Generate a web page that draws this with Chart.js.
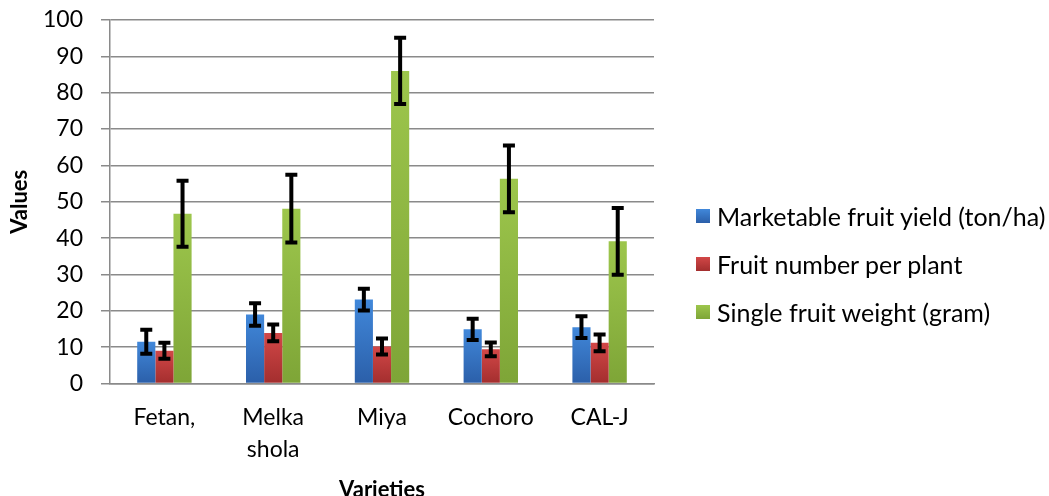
<!DOCTYPE html>
<html>
<head>
<meta charset="utf-8">
<script src="https://cdn.jsdelivr.net/npm/chart.js@4.4.1/dist/chart.umd.min.js"></script>
<style>
    html, body { margin: 0; padding: 0; background: #fff; overflow: hidden; }
    #wrap { position: relative; width: 1049px; height: 496px; }
    #legend { position: absolute; left: 696px; top: 0; font-family: Lato, "Liberation Sans", sans-serif; font-size: 25px; color: #000; }
    .legend-row { position: absolute; left: 0; white-space: nowrap; display: flex; align-items: center; height: 30px; }
    .legend-bg { width: 14px; height: 14px; margin-right: 7px; }
</style>
</head>
<body>
<div id="wrap">
    <canvas id="chart-varieties" width="1049" height="496"></canvas>
    <div id="legend"></div>
</div>
<script>
var categories = ["Fetan,", ["Melka", "shola"], "Miya", "Cochoro", "CAL-J"];
var seriesNames = ["Marketable fruit yield (ton/ha)", "Fruit number per plant", "Single fruit weight (gram)"];
var yieldValues = [11.5, 19.0, 23.1, 14.9, 15.5];
var yieldErrors = [3.3, 3.1, 3.0, 2.9, 3.0];
var numberValues = [9.0, 13.9, 10.2, 9.4, 11.2];
var numberErrors = [2.2, 2.3, 2.2, 1.9, 2.3];
var weightValues = [46.7, 48.1, 86.0, 56.3, 39.1];
var weightErrors = [9.1, 9.3, 9.1, 9.2, 9.2];
var yTicks = [0, 10, 20, 30, 40, 50, 60, 70, 80, 90, 100];

// top / bottom colour of each series gradient
var colorsTop = ["#4188da", "#d24747", "#9dc64c"];
var colorsBottom = ["#2b5fa9", "#a32e2e", "#7ea537"];
var fontName = "Lato, 'Liberation Sans', sans-serif";

function barGradient(index) {
    return function (context) {
        var chart = context.chart;
        var yScale = chart.scales.y;
        if (!yScale || context.parsed === undefined || context.parsed === null) {
            return colorsTop[index];
        }
        var top = yScale.getPixelForValue(context.parsed.y);
        var bottom = yScale.getPixelForValue(0);
        if (!isFinite(top) || !isFinite(bottom) || top === bottom) {
            return colorsTop[index];
        }
        var g = chart.ctx.createLinearGradient(0, top, 0, bottom);
        g.addColorStop(0, colorsTop[index]);
        g.addColorStop(1, colorsBottom[index]);
        return g;
    };
}

var errorBars = {
    id: "errorBars",
    afterDatasetsDraw: function (chart) {
        var ctx = chart.ctx;
        var yScale = chart.scales.y;
        ctx.save();
        ctx.strokeStyle = "#000";
        ctx.lineWidth = 4;
        chart.data.datasets.forEach(function (ds, i) {
            var meta = chart.getDatasetMeta(i);
            meta.data.forEach(function (bar, j) {
                var v = ds.data[j];
                var e = ds.errors[j];
                var yHi = yScale.getPixelForValue(v + e);
                var yLo = yScale.getPixelForValue(v - e);
                var half = 6;
                ctx.beginPath();
                ctx.moveTo(bar.x, yHi);
                ctx.lineTo(bar.x, yLo);
                ctx.moveTo(bar.x - half, yHi);
                ctx.lineTo(bar.x + half, yHi);
                ctx.moveTo(bar.x - half, yLo);
                ctx.lineTo(bar.x + half, yLo);
                ctx.stroke();
            });
        });
        ctx.restore();
    }
};

var ctx = document.getElementById("chart-varieties");
var myChart = new Chart(ctx, {
    type: "bar",
    data: {
        labels: categories,
        datasets: [
            { label: seriesNames[0], data: yieldValues, errors: yieldErrors, backgroundColor: barGradient(0) },
            { label: seriesNames[1], data: numberValues, errors: numberErrors, backgroundColor: barGradient(1) },
            { label: seriesNames[2], data: weightValues, errors: weightErrors, backgroundColor: barGradient(2) }
        ]
    },
    options: {
        responsive: false,
        animation: false,
        layout: {
            padding: { left: 0, right: 395, top: 20, bottom: 0 }
        },
        datasets: {
            bar: { categoryPercentage: 0.5, barPercentage: 1.0, borderWidth: 0 }
        },
        plugins: {
            legend: { display: false },
            tooltip: { enabled: false }
        },
        scales: {
            x: {
                grid: { display: false, drawTicks: false },
                border: { display: true, color: "#8a8a8a", width: 1.5 },
                ticks: {
                    color: "#000",
                    padding: 18,
                    maxRotation: 0,
                    autoSkip: false,
                    font: { family: fontName, size: 23, lineHeight: "32px" }
                },
                title: {
                    display: true,
                    text: "Varieties",
                    color: "#000",
                    padding: { top: 0, bottom: -7 },
                    font: { family: fontName, size: 22, weight: "bold" }
                },
                afterFit: function (scale) {
                    scale.height = 112.5;
                    scale.paddingLeft = 0;
                    scale.paddingRight = 0;
                }
            },
            y: {
                min: 0,
                max: 100,
                afterBuildTicks: function (scale) {
                    scale.ticks = yTicks.map(function (t) { return { value: t }; });
                },
                grid: { color: "#8a8a8a", lineWidth: 1.5, tickLength: 9, drawTicks: true },
                border: { display: true, color: "#8a8a8a", width: 1.5 },
                ticks: {
                    color: "#000",
                    padding: 18,
                    font: { family: fontName, size: 23 }
                },
                title: {
                    display: true,
                    text: "Values",
                    color: "#000",
                    padding: { top: 7, bottom: 0 },
                    font: { family: fontName, size: 22, weight: "bold" }
                },
                afterFit: function (scale) {
                    scale.width = 110;
                    scale.paddingTop = 0;
                    scale.paddingBottom = 0;
                }
            }
        }
    },
    plugins: [errorBars]
});

// legend built from the datasets, rows placed like the original
var rowCenters = [216, 264, 312];
var html = "";
for (var i = 0; i < seriesNames.length; i++) {
    html += "<div class='legend-row' style='top:" + (rowCenters[i] - 15) + "px'>";
    html += "<div class='legend-bg' style='background:linear-gradient(" + colorsTop[i] + "," + colorsBottom[i] + ")'></div>";
    html += seriesNames[i];
    html += "</div>";
}
document.getElementById("legend").innerHTML = html;
</script>
</body>
</html>
